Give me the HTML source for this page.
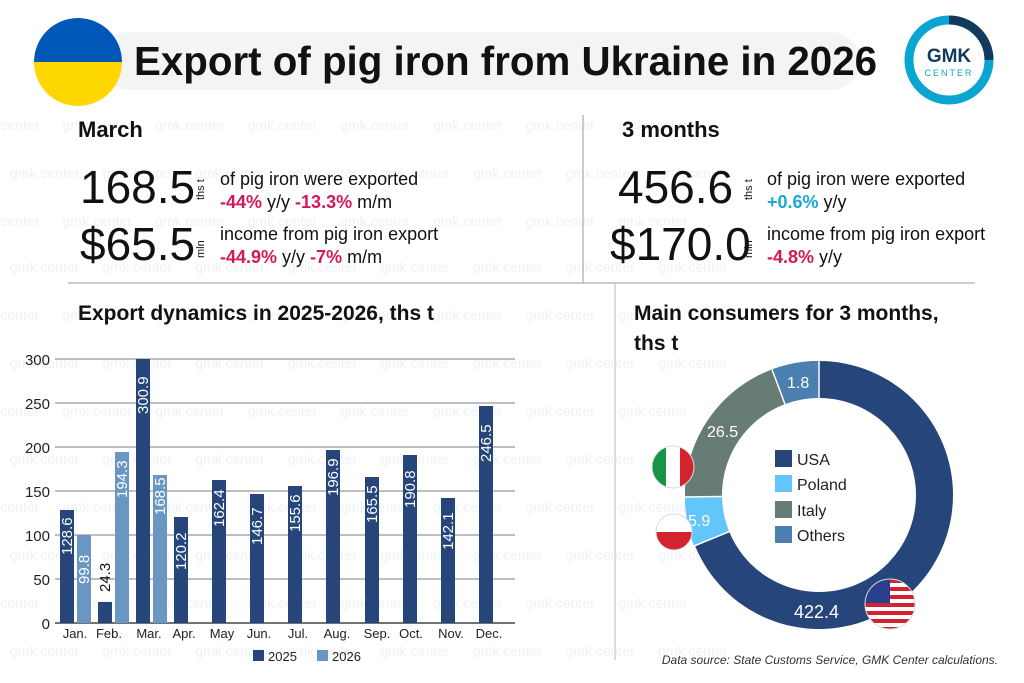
<!DOCTYPE html>
<html><head><meta charset="utf-8"><style>
body{margin:0;background:#fff;}
svg{display:block;font-family:"Liberation Sans",sans-serif;}
.wm text{white-space:pre;}
</style></head><body>
<svg width="1024" height="683" viewBox="0 0 1024 683">
<defs>
<clipPath id="ua"><circle cx="78" cy="62" r="44"/></clipPath>
<clipPath id="it"><circle cx="673" cy="467" r="21"/></clipPath>
<clipPath id="pl"><circle cx="674" cy="532" r="18"/></clipPath>
<clipPath id="us"><circle cx="890" cy="604" r="25"/></clipPath>
</defs>
<rect width="1024" height="683" fill="#fff"/>
<!-- watermark -->
<g class="wm" fill="#edf2f6" font-size="14">
<text x="-30" y="130">gmk.center      gmk.center      gmk.center      gmk.center      gmk.center      gmk.center      gmk.center      gmk.center</text>
<text x="10" y="178">gmk.center      gmk.center      gmk.center      gmk.center      gmk.center      gmk.center      gmk.center      gmk.center</text>
<text x="-30" y="226">gmk.center      gmk.center      gmk.center      gmk.center      gmk.center      gmk.center      gmk.center      gmk.center</text>
<text x="10" y="272">gmk.center      gmk.center      gmk.center      gmk.center      gmk.center      gmk.center      gmk.center      gmk.center</text>
<text x="-30" y="320">gmk.center      gmk.center      gmk.center      gmk.center      gmk.center      gmk.center      gmk.center      gmk.center</text>
<text x="10" y="368">gmk.center      gmk.center      gmk.center      gmk.center      gmk.center      gmk.center      gmk.center      gmk.center</text>
<text x="-30" y="416">gmk.center      gmk.center      gmk.center      gmk.center      gmk.center      gmk.center      gmk.center      gmk.center</text>
<text x="10" y="464">gmk.center      gmk.center      gmk.center      gmk.center      gmk.center      gmk.center      gmk.center      gmk.center</text>
<text x="-30" y="512">gmk.center      gmk.center      gmk.center      gmk.center      gmk.center      gmk.center      gmk.center      gmk.center</text>
<text x="10" y="560">gmk.center      gmk.center      gmk.center      gmk.center      gmk.center      gmk.center      gmk.center      gmk.center</text>
<text x="-30" y="608">gmk.center      gmk.center      gmk.center      gmk.center      gmk.center      gmk.center      gmk.center      gmk.center</text>
<text x="10" y="656">gmk.center      gmk.center      gmk.center      gmk.center      gmk.center      gmk.center      gmk.center      gmk.center</text>
</g>
<!-- header -->
<rect x="100" y="32" width="760" height="58" rx="29" fill="#f3f4f5"/>
<g clip-path="url(#ua)"><rect x="30" y="14" width="100" height="48" fill="#0057b7"/><rect x="30" y="62" width="100" height="50" fill="#ffd700"/></g>
<text x="134" y="75" font-size="41" font-weight="bold" fill="#111" textLength="743" lengthAdjust="spacingAndGlyphs">Export of pig iron from Ukraine in 2026</text>
<circle cx="949" cy="60" r="40" fill="none" stroke="#0aa6d1" stroke-width="9"/>
<path d="M949 20 A40 40 0 0 1 989 60" fill="none" stroke="#123a5c" stroke-width="9"/>
<text x="949" y="62" font-size="19" font-weight="bold" fill="#123a5c" text-anchor="middle">GMK</text>
<text x="949" y="76" font-size="9" fill="#0aa6d1" text-anchor="middle" letter-spacing="2">CENTER</text>
<!-- dividers -->
<line x1="583" y1="115" x2="583" y2="283" stroke="#999" stroke-width="1"/>
<line x1="68" y1="283" x2="975" y2="283" stroke="#bbb" stroke-width="1.5"/>
<line x1="615" y1="283" x2="615" y2="660" stroke="#bbb" stroke-width="1"/>
<!-- stats -->
<g fill="#111">
<text x="78" y="137" font-size="22" font-weight="bold">March</text>
<text x="80" y="203" font-size="46">168.5</text>
<text x="80" y="260" font-size="46">$65.5</text>
<text x="204" y="200" font-size="11" transform="rotate(-90 204 200)">ths t</text>
<text x="204" y="258" font-size="11" transform="rotate(-90 204 258)">mln</text>
<text x="220" y="185" font-size="18">of pig iron were exported</text>
<text x="220" y="208" font-size="18"><tspan fill="#d6185a" font-weight="bold">-44%</tspan> y/y <tspan fill="#d6185a" font-weight="bold">-13.3%</tspan> m/m</text>
<text x="220" y="240" font-size="18">income from pig iron export</text>
<text x="220" y="263" font-size="18"><tspan fill="#d6185a" font-weight="bold">-44.9%</tspan> y/y  <tspan fill="#d6185a" font-weight="bold">-7%</tspan> m/m</text>
<text x="622" y="137" font-size="22" font-weight="bold">3 months</text>
<text x="618" y="203" font-size="46">456.6</text>
<text x="610" y="260" font-size="46">$170.0</text>
<text x="752" y="200" font-size="11" transform="rotate(-90 752 200)">ths t</text>
<text x="752" y="258" font-size="11" transform="rotate(-90 752 258)">mln</text>
<text x="767" y="185" font-size="18">of pig iron were exported</text>
<text x="767" y="208" font-size="18"><tspan fill="#19a9d6" font-weight="bold">+0.6%</tspan> y/y</text>
<text x="767" y="240" font-size="18">income from pig iron export</text>
<text x="767" y="263" font-size="18"><tspan fill="#d6185a" font-weight="bold">-4.8%</tspan> y/y</text>
<text x="78" y="320" font-size="21" font-weight="bold">Export dynamics in 2025-2026, ths t</text>
<text x="634" y="320" font-size="21" font-weight="bold">Main consumers for 3 months,</text>
<text x="634" y="350" font-size="21" font-weight="bold">ths t</text>
</g>
<!-- bar chart -->
<g stroke="#aaa" stroke-width="1.5">
<line x1="55" y1="359" x2="515" y2="359"/><line x1="55" y1="403" x2="515" y2="403"/>
<line x1="55" y1="447" x2="515" y2="447"/><line x1="55" y1="491" x2="515" y2="491"/>
<line x1="55" y1="535" x2="515" y2="535"/><line x1="55" y1="579" x2="515" y2="579"/>
</g>
<line x1="55" y1="623" x2="515" y2="623" stroke="#444" stroke-width="1.5"/>
<g font-size="15" fill="#222" text-anchor="end">
<text x="50" y="365">300</text><text x="50" y="409">250</text><text x="50" y="453">200</text>
<text x="50" y="497">150</text><text x="50" y="541">100</text><text x="50" y="585">50</text><text x="50" y="629">0</text>
</g>
<g fill="#26457a">
<rect x="60" y="510" width="14" height="113"/>
<rect x="98" y="602" width="14" height="21"/>
<rect x="136" y="359" width="14" height="264"/>
<rect x="174" y="517" width="14" height="106"/>
<rect x="212" y="480" width="14" height="143"/>
<rect x="250" y="494" width="14" height="129"/>
<rect x="288" y="486" width="14" height="137"/>
<rect x="326" y="450" width="14" height="173"/>
<rect x="365" y="477" width="14" height="146"/>
<rect x="403" y="455" width="14" height="168"/>
<rect x="441" y="498" width="14" height="125"/>
<rect x="479" y="406" width="14" height="217"/>
</g>
<g fill="#6a96c2">
<rect x="77" y="535" width="14" height="88"/>
<rect x="115" y="452" width="14" height="171"/>
<rect x="153" y="475" width="14" height="148"/>
</g>
<g font-size="15" fill="#fff">
<text transform="translate(72 555) rotate(-90)">128.6</text>
<text transform="translate(89 584) rotate(-90)">99.8</text>
<text transform="translate(127 498) rotate(-90)">194.3</text>
<text transform="translate(148 414) rotate(-90)">300.9</text>
<text transform="translate(165 515) rotate(-90)">168.5</text>
<text transform="translate(186 570) rotate(-90)">120.2</text>
<text transform="translate(224 527) rotate(-90)">162.4</text>
<text transform="translate(262 545) rotate(-90)">146.7</text>
<text transform="translate(300 532) rotate(-90)">155.6</text>
<text transform="translate(338 496) rotate(-90)">196.9</text>
<text transform="translate(377 523) rotate(-90)">165.5</text>
<text transform="translate(415 508) rotate(-90)">190.8</text>
<text transform="translate(453 550) rotate(-90)">142.1</text>
<text transform="translate(491 462) rotate(-90)">246.5</text>
<text transform="translate(110 592) rotate(-90)" fill="#111">24.3</text>
</g>
<g font-size="13" fill="#222" text-anchor="middle">
<text x="75" y="638">Jan.</text><text x="109" y="638">Feb.</text><text x="149" y="638">Mar.</text>
<text x="184" y="638">Apr.</text><text x="222" y="638">May</text><text x="259" y="638">Jun.</text>
<text x="298" y="638">Jul.</text><text x="337" y="638">Aug.</text><text x="377" y="638">Sep.</text>
<text x="411" y="638">Oct.</text><text x="451" y="638">Nov.</text><text x="489" y="638">Dec.</text>
</g>
<rect x="253" y="650" width="11" height="11" fill="#26457a"/><text x="268" y="661" font-size="13" fill="#222">2025</text>
<rect x="317" y="650" width="11" height="11" fill="#6a96c2"/><text x="332" y="661" font-size="13" fill="#222">2026</text>
<!-- donut -->
<circle cx="819" cy="495" r="134" fill="#26457a"/>
<path d="M819 495 L694 546 A134 134 0 0 1 685 497 Z" fill="#62c6fa"/>
<path d="M819 495 L685 497 A134 134 0 0 1 772 369.5 Z" fill="#677c74"/>
<path d="M819 495 L772 369.5 A134 134 0 0 1 819 361 Z" fill="#4a7fb0"/>
<path d="M819 495 L694 546 M819 495 L685 497 M819 495 L772 369.5 M819 495 L819 361" stroke="#fff" stroke-width="1.5"/>
<circle cx="819" cy="495" r="97" fill="#fff"/>
<g font-size="16" fill="#fff">
<text x="787" y="388">1.8</text><text x="707" y="437">26.5</text><text x="688" y="526">5.9</text>
<text x="794" y="618" font-size="18">422.4</text>
</g>
<g font-size="16" fill="#222">
<rect x="775" y="450" width="17" height="17" fill="#26457a"/><text x="797" y="465">USA</text>
<rect x="775" y="475" width="17" height="17" fill="#62c6fa"/><text x="797" y="490">Poland</text>
<rect x="775" y="501" width="17" height="17" fill="#677c74"/><text x="797" y="516">Italy</text>
<rect x="775" y="526" width="17" height="17" fill="#4a7fb0"/><text x="797" y="541">Others</text>
</g>
<!-- flags -->
<g clip-path="url(#it)"><rect x="650" y="440" width="16" height="60" fill="#179444"/><rect x="666" y="440" width="14" height="60" fill="#fff"/><rect x="680" y="440" width="20" height="60" fill="#d2232f"/></g>
<circle cx="673" cy="467" r="21" fill="none" stroke="#ddd"/>
<g clip-path="url(#pl)"><rect x="650" y="510" width="50" height="22" fill="#fff"/><rect x="650" y="532" width="50" height="22" fill="#d2232f"/></g>
<circle cx="674" cy="532" r="18" fill="none" stroke="#ddd"/>
<g clip-path="url(#us)">
<rect x="860" y="575" width="60" height="60" fill="#fff"/>
<g fill="#d2232f"><rect x="860" y="579" width="60" height="4"/><rect x="860" y="587" width="60" height="4"/><rect x="860" y="595" width="60" height="4"/><rect x="860" y="603" width="60" height="4"/><rect x="860" y="611" width="60" height="4"/><rect x="860" y="619" width="60" height="4"/><rect x="860" y="627" width="60" height="4"/></g>
<rect x="860" y="575" width="30" height="28" fill="#2a3f8f"/>
</g>
<circle cx="890" cy="604" r="25" fill="none" stroke="#ddd"/>
<text x="998" y="664" font-size="12" font-style="italic" fill="#333" text-anchor="end">Data source: State Customs Service, GMK Center calculations.</text>
</svg>
</body></html>
